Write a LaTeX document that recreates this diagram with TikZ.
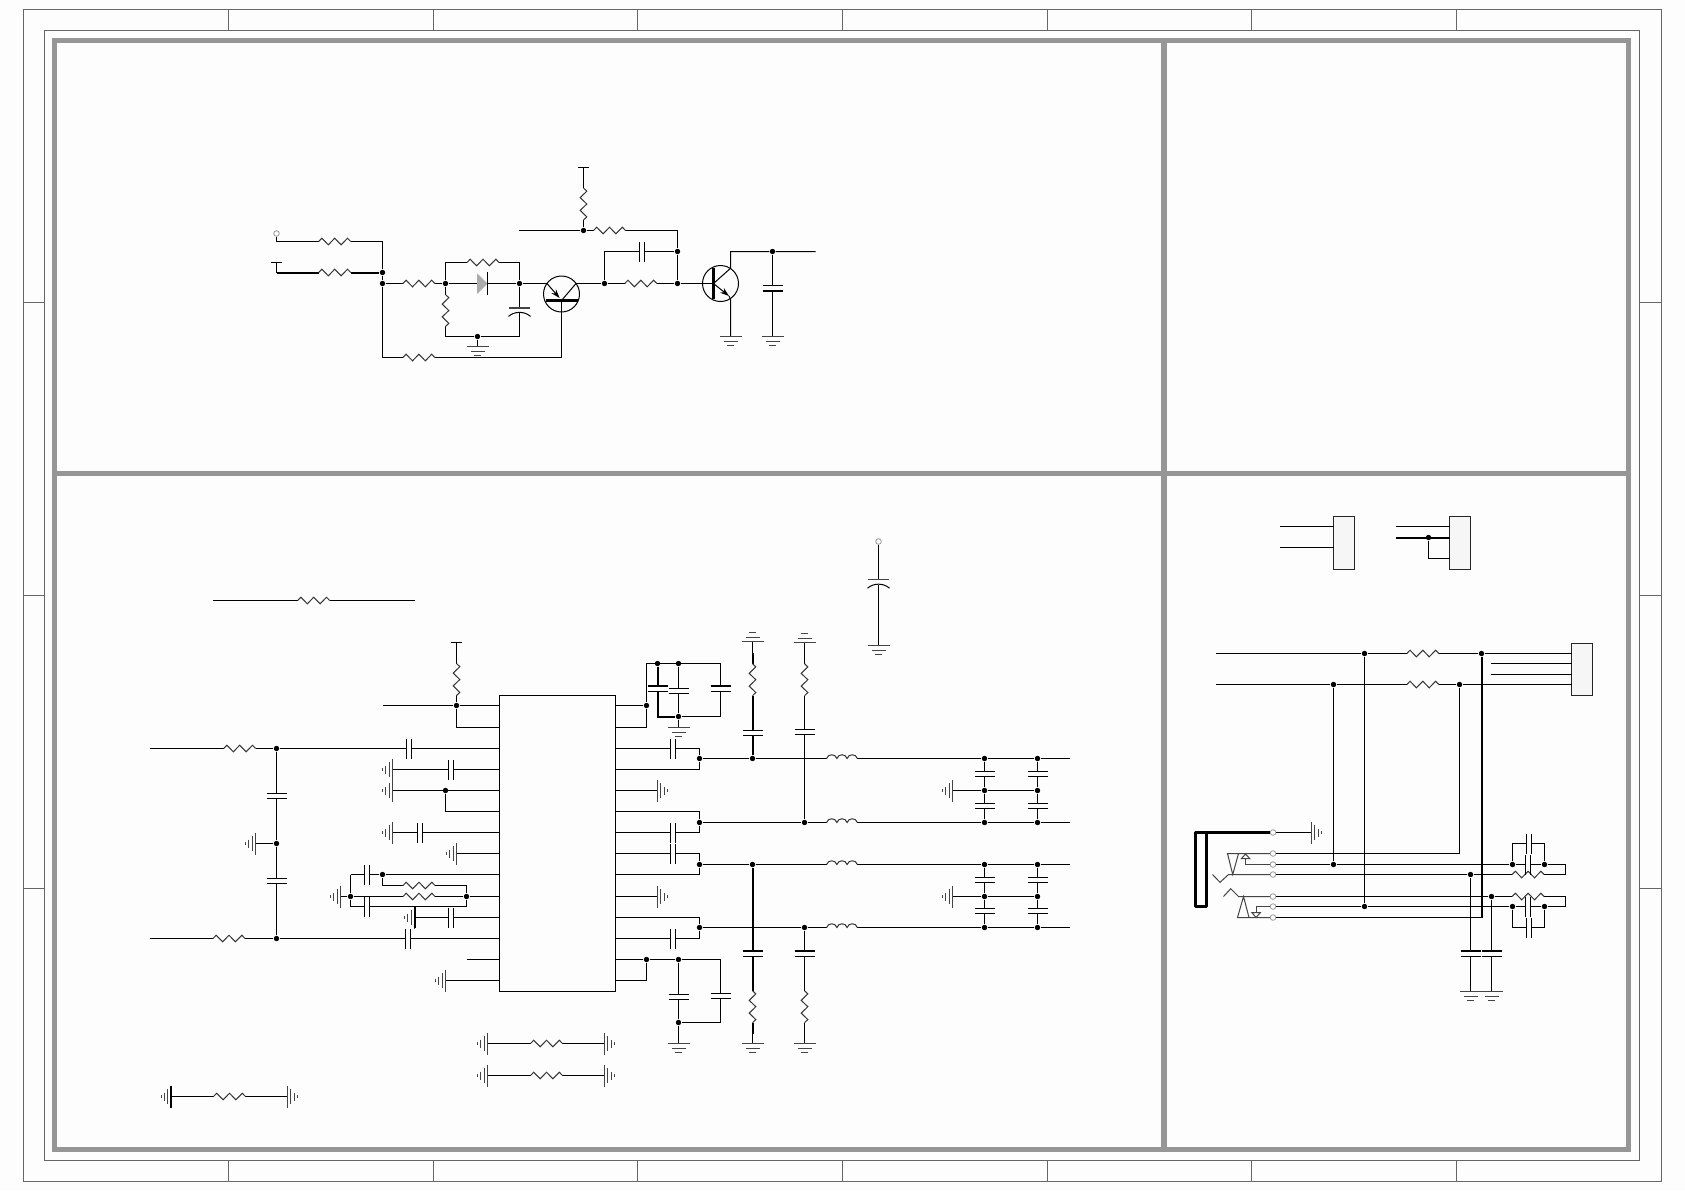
\documentclass[tikz,border=0pt]{standalone}
\usetikzlibrary{arrows.meta}
\definecolor{bgfill}{HTML}{FDFDFD}
\definecolor{framegray}{HTML}{666666}
\definecolor{panelgray}{HTML}{969696}
\definecolor{gndgray}{HTML}{444444}
\definecolor{pingray}{HTML}{999999}
\definecolor{boxfill}{HTML}{F6F6F6}

\tikzset{
    wire/.style={line width=0.5pt, line join=miter},
    bus/.style={line width=1pt},
    jdot/.style={circle, fill=black, inner sep=0pt, minimum size=2.7pt},
    opin/.style={circle, draw=pingray, fill=bgfill, line width=0.4pt, inner sep=0pt, minimum size=2.8pt},
    conn/.style={draw=black!85, fill=boxfill, line width=0.5pt, inner sep=0pt, outer sep=0pt, minimum width=10.5pt},
    qbody/.style={circle, draw, line width=0.5pt, inner sep=0pt, minimum size=18pt},
    resis/.pic={
        \fill[bgfill] (-15.8,-2) rectangle (15.8,2);
        \draw[wire, black!80] (-16,0) -- (-12.8,-3.3) -- (-6.4,3.3) -- (0,-3.3) -- (6.4,3.3) -- (12.8,-3.3) -- (16,0);
    },
    capa/.pic={
        \fill[bgfill] (-3,-2.5) rectangle (3,2.5);
        \draw[wire] (-10,-2.5) -- (10,-2.5) (-10,2.5) -- (10,2.5);
    },
    capt/.pic={
        \fill[bgfill] (-3,-2.5) rectangle (3,2.5);
        \draw[bus] (-10,-2.6) -- (10,-2.6);
        \draw[wire] (-10,2.5) -- (10,2.5);
    },
    capb/.pic={
        \fill[bgfill] (-3,-2.5) rectangle (3,2.5);
        \draw[wire] (-10,-2.5) -- (10,-2.5);
        \draw[bus] (-10,2.6) -- (10,2.6);
    },
    capc/.pic={
        \fill[bgfill] (-3,-2.5) rectangle (3,3);
        \draw[gndgray, line width=0.8pt] (-10.5,-2.5) -- (10.5,-2.5);
        \draw[wire] (-11,6.2) .. controls (-5,0.8) and (5,0.8) .. (11,6.2);
    },
    indu/.pic={
        \fill[bgfill] (-15.4,-1) rectangle (15.4,1);
        \draw[wire, black!80] (-15.4,0) .. controls (-14,-5) and (-6.5,-5) .. (-5.1,0)
            .. controls (-3.7,-5) and (3.7,-5) .. (5.1,0)
            .. controls (6.5,-5) and (14,-5) .. (15.4,0);
    },
    tee/.pic={\draw[wire] (-5.5,0) -- (5.5,0);},
    gndv/.pic={
        \foreach \o/\w in {0/11, 4.5/7, 9/3.5}
            \draw[wire, gndgray] (-\w,\o) -- (\w,\o);
    },
    gndh/.pic={
        \foreach \o/\w in {0/11, 3.3/7.5, 6.6/4, 9.6/1.2}
            \draw[wire, gndgray] (-\w,\o) -- (\w,\o);
    },
}

\begin{document}
\begin{tikzpicture}[x=0.5pt, y=-0.5pt]
    \useasboundingbox (0,0) rectangle (1685,1191);
    \fill[bgfill] (0,0) rectangle (1685,1191);

    % sheet frame
    \draw[framegray, line width=0.5pt] (23.5,9.5) rectangle (1661.5,1181.5);
    \draw[framegray, line width=0.5pt] (44.5,30.5) rectangle (1639.5,1160.5);
    \foreach \x in {228.5, 433.5, 637.5, 842.5, 1047.5, 1251.5, 1456.5} {
        \draw[framegray, line width=0.5pt] (\x,9.5) -- (\x,30.5);
        \draw[framegray, line width=0.5pt] (\x,1160.5) -- (\x,1181.5);
    }
    \foreach \y in {302.5, 595.5, 888.5} {
        \draw[framegray, line width=0.5pt] (23.5,\y) -- (44.5,\y);
        \draw[framegray, line width=0.5pt] (1639.5,\y) -- (1661.5,\y);
    }

    % panels
    \draw[panelgray, line width=2.5pt] (54.7,40.7) rectangle (1628.3,1149);
    \draw[panelgray, line width=2.8pt] (1163.7,40.7) -- (1163.7,1149);
    \draw[panelgray, line width=2.7pt] (54.7,473.3) -- (1628.3,473.3);

    % junctions
    \foreach \nm/\x/\y in {
        ja/382.5/272.5, jb/382.5/283.5, jc/445.5/283.5, jd/519.5/283.5, je/477.5/336.5,
        jf/604.5/283.5, jg/677.5/283.5, jh/677.5/251.5, ji/583.5/230.5, jk/772.5/251.5,
        la/456.5/705.5, lb/276.5/748.5, lc/276.5/843.5, ld/276.5/938.5, le/445.5/790.5,
        lf/382.5/874.5, lg/466.5/896.5, lh/350.5/896.5,
        ma/646.5/705.5, mb/657.5/663.5, mc/678.5/663.5, md/678.5/716.5, me/646.5/959.5,
        mf/678.5/959.5, mg/678.5/1022.5,
        na/699.5/758.5, nb/752.5/758.5, nc/984.5/758.5, nd/1037.5/758.5,
        ne/699.5/822.5, nf/804.5/822.5, ng/984.5/822.5, nh/1037.5/822.5,
        ni/699.5/864.5, nj/752.5/864.5, nk/984.5/864.5, nl/1037.5/864.5,
        nm/699.5/927.5, nn/804.5/927.5, no/984.5/927.5, np/1037.5/927.5,
        nq/984.5/790.5, nr/1037.5/790.5, ns/984.5/896.5, nt/1037.5/896.5,
        ra/1428.5/537.5, rb/1364.5/653.5, rc/1481.5/653.5, rd/1333.5/684.5, re/1459.5/684.5,
        rf/1333.5/864.5, rg/1512.5/864.5, rh/1544.5/864.5, ri/1470.5/874.5,
        rj/1491.5/896.5, rk/1364.5/906.5, rl/1512.5/906.5, rm/1544.5/906.5}
        \node[jdot] (\nm) at (\x,\y) {};

    % open pins
    \foreach \nm/\x/\y in {
        pa/276.5/233.5, pb/878.5/541.5, sa/1273/832.5, sb/1273/853.5, sc/1273/864.5,
        sd/1273/874.5, se/1273/896.5, sf/1273/906.5, sg/1273/917.5}
        \node[opin] (\nm) at (\x,\y) {};

    % chip and connectors
    \node[draw, line width=0.5pt, inner sep=0pt, outer sep=0pt, minimum width=58pt, minimum height=148pt] (ic) at (557.5,843.5) {};
    \node[conn, minimum height=26.5pt] (cona) at (1344,543) {};
    \node[conn, minimum height=26.5pt] (conb) at (1460,543) {};
    \node[conn, minimum height=26pt] (conc) at (1582,669.5) {};
    \foreach \i/\y in {0/705.5, 1/727.5, 2/748.5, 3/769.5, 4/790.5, 5/811.5, 6/832.5,
        7/853.5, 8/874.5, 9/896.5, 10/917.5, 11/938.5, 12/959.5, 13/980.5}
        \path (499.5,\y) coordinate (pl\i) (615.5,\y) coordinate (pr\i);

    % transistors
    \node[qbody] (qa) at (561.5,294) {};
    \node[qbody] (qb) at (720.5,283.5) {};

    % top: input network
    \coordinate (ta) at (276.5,262.5);
    \coordinate (tb) at (276.5,272.5);
    \coordinate (tc) at (382.5,241.5);
    \coordinate (td) at (382.5,357.5);
    \coordinate (te) at (561.5,357.5);
    \coordinate (tf) at (561.5,300.5);
    \coordinate (tg) at (519.5,262.5);
    \coordinate (th) at (519.5,336.5);
    \coordinate (ti) at (477.5,346.5);
    \draw[wire] (pa) |- (tc) -- (ja) -- (jb) -- (td) -- (te) -- (tf);
    \draw[wire] (ta) -- (tb);
    \draw[bus] (tb) -- (ja);
    \draw[wire] (jb) -- (jc) -- (jd) -- (547,283.5);
    \draw[wire] (jc) |- (tg) -- (jd) -- (th) -- (je) -| (jc);
    \draw[wire] (je) -- (ti);
    \pic at (ta) {tee};
    \pic at (ti) {gndv};
    \pic at (334.7,241.5) {resis};
    \pic at (334.7,272.5) {resis};
    \pic at (418.9,283.5) {resis};
    \pic at (483,262.5) {resis};
    \pic[rotate=-90] at (445.5,310.5) {resis};
    \pic at (418.9,357.5) {resis};
    \pic at (519.5,310.2) {capc};
    \fill[panelgray!80] (477,273.3) -- (487.5,283.5) -- (477,294) -- cycle;
    \draw[wire] (487.5,272.3) -- (487.5,294.7);

    % top: first transistor
    \draw[line width=1.5pt] (546,300.5) -- (578,300.5);
    \draw[wire, -{Stealth[length=4.5pt,width=3pt]}] (547,283.5) -- (559.6,298);
    \draw[wire] (576,283.5) -- (tf);
    \draw[wire] (576,283.5) -- (jf) -- (jg) -- (713.5,283.5);
    \pic at (640.8,283.5) {resis};

    % top: feedback
    \coordinate (ua) at (519,230.5);
    \coordinate (ub) at (677.5,230.5);
    \coordinate (uc) at (583.5,167.5);
    \draw[wire] (ua) -- (ji) -- (ub) -- (jh) -- (jg);
    \draw[wire] (ji) -- (uc);
    \draw[wire] (jf) |- (jh);
    \pic at (uc) {tee};
    \pic[rotate=-90] at (583.5,204) {resis};
    \pic at (609.5,230.5) {resis};
    \pic[rotate=90] at (641.5,251.5) {capa};

    % top: second transistor
    \coordinate (va) at (730.5,251.5);
    \coordinate (vb) at (815.5,251.5);
    \coordinate (vc) at (730.5,336.5);
    \coordinate (vd) at (772.5,336.5);
    \draw[line width=1.5pt] (713.5,268) -- (713.5,299.3);
    \draw[wire] (713.5,283.5) -- (730.5,268.3) -- (va) -- (jk) -- (vb);
    \draw[wire, -{Stealth[length=4.5pt,width=3pt]}] (713.5,283.5) -- (729,296);
    \draw[wire] (729,296) -- (730.5,299.3) -- (vc);
    \draw[wire] (jk) -- (vd);
    \pic at (772.5,288.3) {capb};
    \pic at (vc) {gndv};
    \pic at (vd) {gndv};

    % bottom left: loose parts
    \coordinate (wa) at (213,600.5);
    \coordinate (wb) at (414.5,600.5);
    \draw[wire] (wa) -- (wb);
    \pic at (313.7,600.5) {resis};
    \coordinate (wc) at (878.5,645.5);
    \draw[wire] (pb) -- (wc);
    \pic at (wc) {gndv};
    \pic at (878.5,582) {capc};
    \foreach \nm/\y in {wd/1043.5, we/1075.5} {
        \coordinate (\nm l) at (487.5,\y);
        \coordinate (\nm r) at (604.5,\y);
        \draw[wire] (\nm l) -- (\nm r);
        \pic[rotate=-90] at (\nm l) {gndh};
        \pic[rotate=90] at (\nm r) {gndh};
        \pic at (546.5,\y) {resis};
    }
    \coordinate (wfl) at (171,1096.5);
    \coordinate (wfr) at (287.5,1096.5);
    \draw[wire] (wfl) -- (wfr);
    \pic[rotate=-90] at (wfl) {gndh};
    \pic[rotate=90] at (wfr) {gndh};
    \draw[bus] (171,1085.5) -- (171,1107.5);
    \pic at (229.5,1096.5) {resis};

    % chip left side
    \coordinate (xa) at (382.5,705.5);
    \coordinate (xb) at (456.5,642.5);
    \draw[wire] (xa) -- (la) -- (pl0);
    \draw[wire] (xb) -- (la) |- (pl1);
    \pic at (xb) {tee};
    \pic[rotate=-90] at (456.5,679.5) {resis};
    \coordinate (xc) at (149.5,748.5);
    \coordinate (xd) at (149.5,938.5);
    \coordinate (xe) at (255.5,843.5);
    \draw[wire] (xc) -- (lb) -- (pl2);
    \draw[wire] (xd) -- (ld) -- (pl11);
    \draw[wire] (lb) -- (lc) -- (ld);
    \draw[wire] (xe) -- (lc);
    \pic[rotate=-90] at (xe) {gndh};
    \pic at (239.7,748.5) {resis};
    \pic at (229,938.5) {resis};
    \pic[rotate=90] at (409,748.5) {capa};
    \pic[rotate=90] at (408.2,938.5) {capa};
    \pic at (276.5,796) {capa};
    \pic at (276.5,881) {capa};
    \foreach \nm/\x/\p in {ya/392.5/3, yb/392.5/4, yc/392.5/6, yd/456.5/7, ye/414.5/10, yf/445.5/13} {
        \coordinate (\nm) at (pl\p -| \x,0);
        \draw[wire] (\nm) -- (pl\p);
        \pic[rotate=-90] at (\nm) {gndh};
    }
    \draw[bus] (414.5,907) -- (414.5,928);
    \draw[wire] (le) |- (pl5);
    \pic[rotate=90] at (451.3,769.5) {capa};
    \pic[rotate=90] at (420,832.5) {capa};
    \pic[rotate=90] at (450.7,917.5) {capa};
    \coordinate (za) at (350.5,874.5);
    \coordinate (zb) at (350.5,906.5);
    \coordinate (zc) at (466.5,906.5);
    \coordinate (zd) at (466.5,885.5);
    \coordinate (ze) at (340.5,896.5);
    \coordinate (zf) at (466.5,959.5);
    \draw[wire] (za) -- (lf) -- (pl8);
    \draw[wire] (lf) |- (zd) -- (lg) -- (zc) -- (zb) -- (lh) -- (za);
    \draw[wire] (ze) -- (lh) -- (lg) -- (pl9);
    \draw[wire] (zf) -- (pl12);
    \pic[rotate=-90] at (ze) {gndh};
    \pic at (419,885.5) {resis};
    \pic at (419,896.5) {resis};
    \pic[rotate=90] at (366.5,874.5) {capa};
    \pic[rotate=90] at (366.5,906.5) {capa};

    % chip right side, upper decoupling
    \coordinate (aa) at (646.5,663.5);
    \coordinate (ab) at (646.5,727.5);
    \coordinate (ac) at (720.5,663.5);
    \coordinate (ad) at (720.5,716.5);
    \coordinate (ae) at (657.5,716.5);
    \coordinate (af) at (678.5,727.5);
    \draw[wire] (pr0) -- (ma) -- (ab) -- (pr1);
    \draw[wire] (ma) -- (aa) -- (ac) -- (ad) -- (md) -- (mc);
    \draw[bus] (mb) -- (ae) -- (md);
    \draw[wire] (md) -- (af);
    \pic at (657.5,689) {capt};
    \pic at (678.5,690.7) {capa};
    \pic at (720.5,689) {capt};
    \pic at (af) {gndv};

    % chip right side, lower decoupling
    \coordinate (ag) at (646.5,980.5);
    \coordinate (ah) at (720.5,959.5);
    \coordinate (ai) at (720.5,1022.5);
    \coordinate (aj) at (678.5,1043.5);
    \draw[wire] (pr12) -- (me) -- (mf) -- (ah) -- (ai) -- (mg) -- (mf);
    \draw[wire] (me) -- (ag) -- (pr13);
    \draw[wire] (mg) -- (aj);
    \pic at (678.5,996.7) {capa};
    \pic at (720.5,995.7) {capa};
    \pic at (aj) {gndv};

    % output rails
    \coordinate (ba) at (1069.5,758.5);
    \coordinate (bb) at (1069.5,822.5);
    \coordinate (bc) at (1069.5,864.5);
    \coordinate (bd) at (1069.5,927.5);
    \draw[wire] (na) -- (nb) -- (nc) -- (nd) -- (ba);
    \draw[wire] (ne) -- (nf) -- (ng) -- (nh) -- (bb);
    \draw[wire] (ni) -- (nj) -- (nk) -- (nl) -- (bc);
    \draw[wire] (nm) -- (nn) -- (no) -- (np) -- (bd);
    \foreach \y in {758.5, 822.5, 864.5, 927.5}
        \pic at (842,\y) {indu};
    \foreach \a/\b/\c in {2/3/na, 5/6/ne, 7/8/ni, 10/11/nm} {
        \draw[wire] (pr\a) -| (\c);
        \draw[wire] (pr\b) -| (\c);
    }
    \pic[rotate=90] at (673.2,748.5) {capa};
    \pic[rotate=90] at (673.2,832.5) {capa};
    \pic[rotate=90] at (673.2,853.5) {capa};
    \pic[rotate=90] at (673.2,938.5) {capa};
    \foreach \nm/\p in {ca/4, cb/9} {
        \coordinate (\nm) at (pr\p -| 657.5,0);
        \draw[wire] (pr\p) -- (\nm);
        \pic[rotate=90] at (\nm) {gndh};
    }

    % rail terminations
    \coordinate (da) at (752.5,641.5);
    \coordinate (db) at (752.5,652.5);
    \coordinate (dc) at (804.5,642.5);
    \coordinate (dd) at (752.5,1033.5);
    \coordinate (de) at (752.5,1043.5);
    \coordinate (df) at (804.5,1043.5);
    \draw[wire] (da) -- (db);
    \draw[bus] (db) -- (nb);
    \draw[wire] (dc) -- (nf);
    \draw[bus] (nj) -- (dd);
    \draw[wire] (dd) -- (de);
    \draw[wire] (nn) -- (df);
    \pic[rotate=180] at (da) {gndv};
    \pic[rotate=180] at (dc) {gndv};
    \pic at (de) {gndv};
    \pic at (df) {gndv};
    \pic[rotate=-90] at (752.5,679.7) {resis};
    \pic[rotate=-90] at (804.5,679.7) {resis};
    \pic[rotate=-90] at (752.5,1006.7) {resis};
    \pic[rotate=-90] at (804.5,1006.7) {resis};
    \pic at (752.5,733) {capa};
    \pic at (804.5,731.7) {capa};
    \pic at (752.5,953.5) {capt};
    \pic at (804.5,953.5) {capt};

    % filter capacitors
    \coordinate (ea) at (952.5,790.5);
    \coordinate (eb) at (952.5,896.5);
    \draw[wire] (nc) -- (nq) -- (ng);
    \draw[wire] (nd) -- (nr) -- (nh);
    \draw[wire] (nk) -- (ns) -- (no);
    \draw[wire] (nl) -- (nt) -- (np);
    \draw[wire] (ea) -- (nq) -- (nr);
    \draw[wire] (eb) -- (ns) -- (nt);
    \pic[rotate=-90] at (ea) {gndh};
    \pic[rotate=-90] at (eb) {gndh};
    \foreach \x in {984.5, 1037.5}
        \foreach \y in {774, 805.8, 879.8, 911.3}
            \pic at (\x,\y) {capa};

    % right panel: small connectors
    \coordinate (fa) at (1280,526.5);
    \coordinate (fb) at (1280,547.5);
    \coordinate (fc) at (1396,526.5);
    \coordinate (fd) at (1396,537.5);
    \coordinate (fe) at (1428.5,558.5);
    \draw[wire] (fa) -- (fa -| cona.west);
    \draw[wire] (fb) -- (fb -| cona.west);
    \draw[wire] (fc) -- (fc -| conb.west);
    \draw[bus] (fd) -- (fd -| conb.west);
    \draw[wire] (ra) -- (fe) -- (fe -| conb.west);

    % right panel: big connector
    \coordinate (ga) at (1216,653.5);
    \coordinate (gb) at (1216,684.5);
    \coordinate (gc) at (1491,663.5);
    \coordinate (gd) at (1491,674.5);
    \draw[wire] (ga) -- (rb) -- (rc) -- (rc -| conc.west);
    \draw[wire] (gb) -- (rd) -- (re) -- (re -| conc.west);
    \draw[wire] (gc) -- (gc -| conc.west);
    \draw[wire] (gd) -- (gd -| conc.west);
    \pic at (1422.8,653.5) {resis};
    \pic at (1422.8,684.5) {resis};

    % right panel: jack wiring
    \coordinate (ha) at (1311.5,832.5);
    \coordinate (hb) at (1481.5,917.5);
    \coordinate (hc) at (1565.5,864.5);
    \coordinate (hd) at (1565.5,874.5);
    \coordinate (he) at (1565.5,896.5);
    \coordinate (hf) at (1565.5,906.5);
    \draw[wire] (sa) -- (ha);
    \pic[rotate=90] at (ha) {gndh};
    \draw[wire] (sb) -| (re);
    \draw[wire] (sc) -- (rf) -- (rg) -- (rh) -- (hc) -- (hd) -- (ri) -- (sd);
    \draw[wire] (se) -- (rj) -- (he) -- (hf) -- (rm) -- (rl) -- (rk) -- (sf);
    \draw[wire] (sg) -- (hb);
    \draw[bus] (rc) -- (hb);
    \draw[wire] (rd) -- (rf);
    \draw[wire] (rb) -- (rk);
    \pic at (1528.1,874.5) {resis};
    \pic at (1528.1,896.5) {resis};

    % right panel: loops over the jack lines
    \coordinate (ka) at (1512.5,843.5);
    \coordinate (kb) at (1544.5,843.5);
    \coordinate (kc) at (1512.5,927.5);
    \coordinate (kd) at (1544.5,927.5);
    \draw[wire] (rg) -- (ka) -- (kb) -- (rh);
    \draw[wire] (rl) -- (kc) -- (kd) -- (rm);
    \pic[rotate=90] at (1529,843.5) {capa};
    \pic[rotate=90] at (1528,864.5) {capa};
    \pic[rotate=90] at (1528,906.5) {capa};
    \pic[rotate=90] at (1529,927.5) {capa};

    % right panel: capacitors to ground
    \coordinate (ke) at (1470.5,991.5);
    \coordinate (kf) at (1491.5,991.5);
    \draw[wire] (ri) -- (ke);
    \draw[wire] (rj) -- (kf);
    \pic at (1470.5,953.7) {capt};
    \pic at (1491.5,953.7) {capt};
    \pic at (ke) {gndv};
    \pic at (kf) {gndv};

    % jack body
    \draw[line width=1.5pt, line join=round] (sa) -- (1195,832.5) -- (1195,906.5) -- (1206.7,906.5) -- (1206.7,832.5);
    \draw[wire, gndgray] (sb) -- (1227.5,853.5) -- (1232.7,874.5) -- (1238.5,853.5);
    \draw[wire, gndgray] (sd) -- (1228.5,874.5) -- (1220,882.3) -- (1212.5,874.5);
    \draw[wire, gndgray] (se) -- (1238.5,896.5) -- (1230.7,888.7) -- (1223.5,896.5);
    \draw[wire, gndgray] (sg) -- (1237.5,917.5) -- (1243.5,896.5) -- (1249,917.5);
    \draw[wire, gndgray] (sc) -- (1245.5,864.5) -- (1245.5,858.5);
    \draw[wire, gndgray, fill=bgfill] (1241.5,858.5) -- (1245.5,854) -- (1249.7,858.5) -- cycle;
    \draw[wire, gndgray] (sf) -- (1256,906.5) -- (1256,912.7);
    \draw[wire, gndgray, fill=bgfill] (1252,912.7) -- (1256,917.5) -- (1260.3,912.7) -- cycle;
\end{tikzpicture}
\end{document}
